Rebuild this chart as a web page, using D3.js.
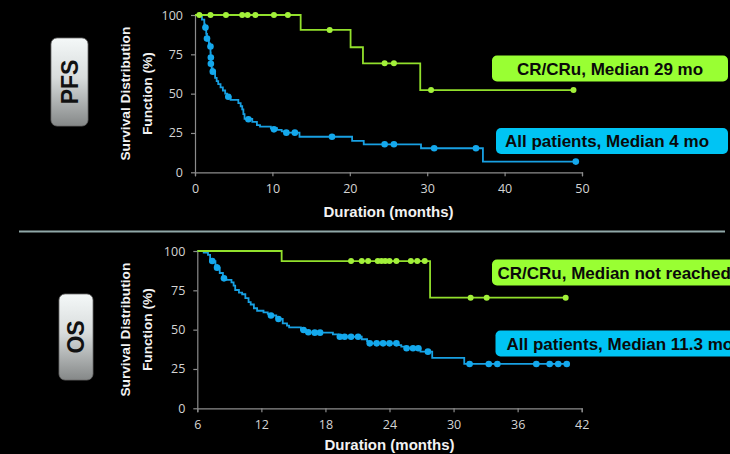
<!DOCTYPE html>
<html><head><meta charset="utf-8">
<script src="https://cdn.jsdelivr.net/npm/d3@7"></script>
<style>body{margin:0;background:#000;overflow:hidden}svg{display:block}</style>
</head><body>
<script>
// ---------- DATA ----------
// PFS (months, survival %) step points
const pfsAllSteps = [[0,100],[0.9,97],[1.2,94],[1.3,92],[1.45,88],[1.55,85],[1.8,82],[1.95,80],[2.0,76],[2.03,73],[2.06,69],[2.15,66],[2.3,64],[2.6,60],[2.8,58],[3.0,56],[3.3,54],[3.6,52],[3.9,50],[4.15,48],[4.6,46],[5.6,44],[5.9,42],[6.1,40],[6.25,37],[6.4,34],[7.4,32],[8.0,30],[8.4,29],[9.8,28],[10.6,27],[11.2,26],[11.6,25.2],[13.5,22.6],[20.3,20],[21.8,17.8],[29.2,15.3],[37.2,6.8],[49.2,6.8]];
const pfsAllCensor = [[1.35,92],[1.55,85],[2.0,80],[2.05,73],[2.05,69],[2.3,64],[4.3,48],[6.9,33.7],[10.2,27.3],[11.8,25.2],[12.9,25.2],[17.7,22.6],[24.5,17.8],[25.7,17.8],[30.9,15.3],[36.3,15.3],[49.2,6.8]];
const pfsCrSteps = [[0,100],[13.65,90.5],[20.1,79.5],[21.7,69.3],[29.1,52.3],[48.9,52.3]];
const pfsCrCensor = [[0.56,100],[2.0,100],[4.0,100],[6.1,100],[6.8,100],[7.8,100],[10.2,100],[12.0,100],[17.4,90.5],[24.5,69.3],[25.7,69.3],[30.5,52.3],[48.9,52.3]];

// OS (months, survival %)
const osAllSteps = [[6,100],[6.6,99],[7.0,97.5],[7.2,95],[7.4,93.6],[7.7,91],[7.85,89.4],[8.1,86],[8.4,83],[8.7,81.6],[9.2,80],[9.4,78],[9.55,75.2],[9.9,73.5],[10.2,72.5],[10.5,70],[10.8,67.5],[11.0,66],[11.3,63.6],[11.6,62],[12.2,61],[12.6,60],[12.9,59],[13.4,57.5],[13.6,56.8],[14.0,54],[14.4,52.5],[14.6,51.5],[15.7,49.8],[16.2,48.3],[16.9,48.1],[18.7,47],[19.2,45.5],[21.4,43.9],[21.9,42.5],[22.1,41.3],[24.8,40.2],[25.1,39.2],[25.5,38.2],[26.9,36],[28.0,32],[31.0,28.2],[40.6,28.2]];
const osAllCensor = [[7.4,93.6],[7.85,89.4],[8.5,82.6],[12.9,59],[13.6,56.8],[15.95,49.8],[16.4,48.3],[17.0,48.1],[17.5,48.1],[19.35,45.5],[19.8,45.5],[20.4,45.5],[21.06,45.5],[22.15,41.3],[22.8,41.3],[23.4,41.3],[24.0,41.3],[24.65,41.3],[25.6,38.2],[26.2,38.2],[26.7,38.2],[27.6,36],[31.5,28.2],[33.3,28.2],[34.1,28.2],[37.75,28.2],[39.0,28.2],[39.8,28.2],[40.6,28.2]];
const osCrSteps = [[6,100],[13.9,93.6],[27.8,70.3],[40.5,70.3]];
const osCrCensor = [[20.4,93.6],[21.4,93.6],[22.0,93.6],[22.9,93.6],[23.25,93.6],[23.6,93.6],[24.0,93.6],[24.65,93.6],[26.0,93.6],[26.6,93.6],[27.3,93.6],[31.6,70.3],[33.1,70.3],[40.5,70.3]];

const yTicks = [0,25,50,75,100];
const pfsXTicks = [0,10,20,30,40,50];
const osXTicks = [6,12,18,24,30,36,42];
const panelLabels = ["PFS","OS"];
const pfsLegend = ["CR/CRu, Median 29 mo","All patients, Median 4 mo"];
const osLegend = ["CR/CRu, Median not reached","All patients, Median 11.3 mo"];
const yTitle = ["Survival Distribution","Function (%)"];
const xTitle = "Duration (months)";

// ---------- DRAW ----------
const W=730,H=454;
const svg=d3.select("body").append("svg").attr("width",W).attr("height",H).style("background","#000");
const defs=svg.append("defs");
const grad=defs.append("linearGradient").attr("id","lbl").attr("x1",0).attr("y1",0).attr("x2",0).attr("y2",1);
grad.append("stop").attr("offset","0%").attr("stop-color","#f4f8f8");
grad.append("stop").attr("offset","45%").attr("stop-color","#d8dcdc");
grad.append("stop").attr("offset","100%").attr("stop-color","#858888");

const GREEN_LINE="#92e02c", GREEN_DOT="#a2f03a", BLUE_LINE="#18a0e2", BLUE_DOT="#14a8ec";
const GREEN_BOX="#99ff33", BLUE_BOX="#00c4f4";

svg.append("line").attr("x1",19).attr("x2",725).attr("y1",231.5).attr("y2",231.5).attr("stroke","#90a8a8").attr("stroke-width",2);

function panel(cfg){
  const x=d3.scaleLinear().domain(cfg.xDomain).range([cfg.x0,cfg.x1]);
  const y=d3.scaleLinear().domain([0,100]).range([cfg.y0,cfg.y1]);
  const g=svg.append("g");
  const xa=g.append("g").attr("transform",`translate(0,${cfg.y0})`).call(d3.axisBottom(x).tickValues(cfg.xTicks).tickSize(4).tickPadding(8).tickSizeOuter(4));
  const ya=g.append("g").attr("transform",`translate(${cfg.x0},0)`).call(d3.axisLeft(y).tickValues(yTicks).tickSize(4).tickPadding(8).tickSizeOuter(0));
  [xa,ya].forEach(a=>{
    a.selectAll("path,line").attr("stroke","#8c8c8c").attr("stroke-width",1.2);
    a.selectAll("text").attr("fill","#d4d4d4").style("font-family","'Open Sans',sans-serif").style("font-size","12.5px");
  });
  const line=d3.line().x(d=>x(d[0])).y(d=>y(d[1])).curve(d3.curveStepAfter);
  const series=[
    {steps:cfg.allSteps,cens:cfg.allCensor,lc:BLUE_LINE,dc:BLUE_DOT,r:3.3},
    {steps:cfg.crSteps,cens:cfg.crCensor,lc:GREEN_LINE,dc:GREEN_DOT,r:3}
  ];
  series.forEach(s=>{
    g.append("path").attr("d",line(s.steps)).attr("fill","none").attr("stroke",s.lc).attr("stroke-width",1.8);
    g.selectAll(null).data(s.cens).enter().append("circle").attr("cx",d=>x(d[0])).attr("cy",d=>y(d[1])).attr("r",s.r).attr("fill",s.dc);
  });
  // y title
  const yc=(cfg.y0+cfg.y1)/2;
  yTitle.forEach((t,i)=>{
    g.append("text").attr("transform",`translate(${125+i*22},${yc}) rotate(-90)`).attr("text-anchor","middle").attr("dominant-baseline","central")
     .attr("fill","#f2f2f2").style("font-family","'Liberation Sans',Arial,sans-serif").style("font-weight","bold").style("font-size","13.7px").text(t);
  });
  g.append("text").attr("x",(cfg.x0+cfg.x1)/2).attr("y",cfg.y0+cfg.xtDy).attr("text-anchor","middle").attr("dominant-baseline","central")
   .attr("fill","#f2f2f2").style("font-family","'Liberation Sans',Arial,sans-serif").style("font-weight","bold").style("font-size","15px").text(xTitle);
  // panel label box
  const b=cfg.lbl;
  g.append("rect").attr("x",b.x).attr("y",b.y).attr("width",b.w).attr("height",b.h).attr("rx",6).attr("fill","url(#lbl)").attr("stroke","#6a6a6a").attr("stroke-width",0.8);
  g.append("text").attr("transform",`translate(${b.x+b.w/2},${b.y+b.h/2}) rotate(-90)`).attr("text-anchor","middle").attr("dominant-baseline","central")
   .attr("fill","#111").style("font-family","'Liberation Sans',Arial,sans-serif").style("font-weight","bold").style("font-size","23px").text(b.t);
  // legend boxes
  cfg.leg.forEach(L=>{
    g.append("rect").attr("x",L.x).attr("y",L.y).attr("width",L.w).attr("height",26).attr("rx",5).attr("fill",L.c);
    g.append("text").attr("x",L.tx).attr("y",L.y+13.5).attr("dominant-baseline","central").attr("fill","#0a0a0a")
     .style("font-family","'Liberation Sans',Arial,sans-serif").style("font-weight","bold").style("font-size","17px").text(L.t);
  });
}

panel({xDomain:[0,50],xTicks:pfsXTicks,x0:195,x1:582,y0:172.3,y1:15,xtDy:39,
  allSteps:pfsAllSteps,allCensor:pfsAllCensor,crSteps:pfsCrSteps,crCensor:pfsCrCensor,
  lbl:{x:51,y:38,w:37,h:88,t:panelLabels[0]},
  leg:[{x:492,y:55.5,w:236,c:GREEN_BOX,t:pfsLegend[0],tx:517},{x:496,y:128,w:232,c:BLUE_BOX,t:pfsLegend[1],tx:505}]});
panel({xDomain:[6,42],xTicks:osXTicks,x0:197.3,x1:581.7,y0:408.3,y1:251,xtDy:36,
  allSteps:osAllSteps,allCensor:osAllCensor,crSteps:osCrSteps,crCensor:osCrCensor,
  lbl:{x:59,y:294,w:34,h:86,t:panelLabels[1]},
  leg:[{x:492,y:259.5,w:250,c:GREEN_BOX,t:osLegend[0],tx:497.5},{x:495.5,y:330.5,w:250,c:BLUE_BOX,t:osLegend[1],tx:506.5}]});
</script>
</body></html>
